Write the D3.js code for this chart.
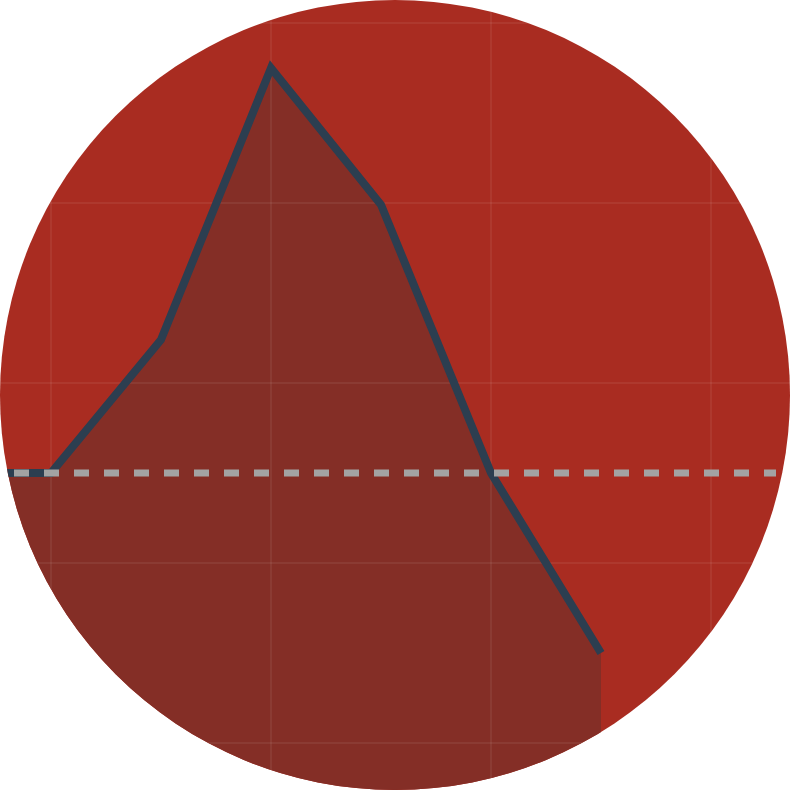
<!DOCTYPE html>
<meta charset="utf-8">
<style>
  html, body { margin: 0; padding: 0; background: #fff; }
  svg { display: block; }
</style>
<svg width="790" height="790"></svg>
<script src="https://d3js.org/d3.v7.min.js"></script>
<script>

// data
var steps = [0, 1, 2, 3, 4, 5, 6];
var values = [0, 0, 74, 225, 149, 0, -100];
var baseline = 0;
var xGrid = [1, 3, 5, 7];
var yGrid = [250, 150, 50, -50, -150];

var width = 790,
    height = 790,
    radius = width / 2;

var svg = d3.select("svg");

var x = d3.scaleLinear()
    .domain([0, 6])
    .range([-59, 601]);

var y = d3.scaleLinear()
    .domain([-100, 225])
    .range([653, 68]);

// circle clip
svg.append("clipPath")
    .attr("id", "disc")
  .append("circle")
    .attr("cx", width / 2)
    .attr("cy", height / 2)
    .attr("r", radius);

var g = svg.append("g")
    .attr("clip-path", "url(#disc)");

g.append("rect")
    .attr("width", width)
    .attr("height", height)
    .attr("fill", "#a92c21");

var data = steps.map(function(s, i) { return {s: s, v: values[i]}; });

// area under the line, down to the bottom
g.append("path")
    .datum(data)
    .attr("fill", "#842e26")
    .attr("d", d3.area()
        .x(function(d) { return x(d.s); })
        .y0(height + 10)
        .y1(function(d) { return y(d.v); }));

// grid
g.append("g")
  .selectAll("line")
  .data(xGrid)
  .enter().append("line")
    .attr("x1", x).attr("x2", x)
    .attr("y1", 0).attr("y2", height)
    .attr("stroke", "#fff")
    .attr("stroke-opacity", 0.13)
    .attr("stroke-width", 1);

g.append("g")
  .selectAll("line")
  .data(yGrid)
  .enter().append("line")
    .attr("x1", 0).attr("x2", width)
    .attr("y1", y).attr("y2", y)
    .attr("stroke", "#fff")
    .attr("stroke-opacity", 0.13)
    .attr("stroke-width", 1);

// the line
g.append("path")
    .datum(data)
    .attr("fill", "none")
    .attr("stroke", "#2c3e50")
    .attr("stroke-width", 8)
    .attr("stroke-linejoin", "miter")
    .attr("d", d3.line()
        .x(function(d) { return x(d.s); })
        .y(function(d) { return y(d.v); }));

// dashed reference line
g.append("line")
    .attr("x1", -16)
    .attr("x2", 776)
    .attr("y1", y(baseline))
    .attr("y2", y(baseline))
    .attr("stroke", "#a3a3a3")
    .attr("stroke-width", 7)
    .attr("stroke-dasharray", "15,15");

</script>
